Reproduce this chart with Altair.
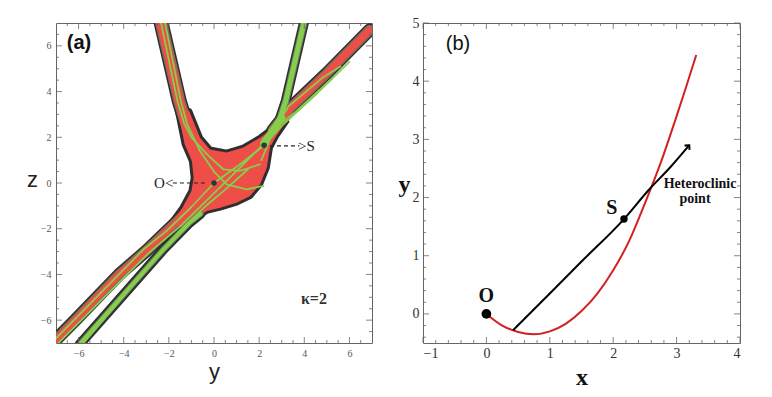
import altair as alt
import pandas as pd

# ---------------- Panel (a): y-z plane ----------------
a_major = [-6, -4, -2, 0, 2, 4, 6]
a_minor = [-6.5, -5.5, -5, -4.5, -3.5, -3, -2.5, -1.5, -1, -0.5,
           0.5, 1, 1.5, 2.5, 3, 3.5, 4.5, 5, 5.5, 6.5]

# band centre lines (y, z)
band_A_y = [-7.8, -6.15, -4.2, -3.0, -1.5, -0.9]
band_A_z = [-7.65, -6.0, -4.0, -2.97, -1.55, -1.0]
band_B_y = [2.6, 3.4, 5.0, 6.9]
band_B_z = [2.3, 3.3, 4.8, 6.7]
band_C_y = [-6.35, -5.9, -2.3, -1.1, -0.6]
band_C_z = [-7.6, -7.0, -2.97, -1.75, -1.35]
band_D_y = [-2.45, -2.34, -1.54, -1.2, -0.95]
band_D_z = [7.5, 7.0, 3.59, 2.5, 1.6]
band_E_y = [4.1, 3.98, 3.18, 2.9]
band_E_z = [7.5, 7.0, 3.59, 2.75]

# central red region outline
blob_y = [-1.6, -1.3, -0.98, -0.9, -1.0, -1.4, -1.85, -1.3, -0.77, -0.32, 0.27, 1.0,
          1.6, 2.04, 2.34, 2.48, 2.75, 3.2, 3.0, 2.63, 2.04, 1.30, 0.56, -0.18, -0.62, -1.1, -1.6]
blob_z = [3.15, 1.69, 0.96, 0.23, -0.35, -1.08, -1.7, -2.05, -1.52, -1.22, -1.08, -0.86,
          -0.57, -0.06, 0.67, 1.55, 2.05, 2.7, 2.85, 2.42, 1.98, 1.55, 1.33, 1.47, 1.98, 3.15, 3.15]

# green manifold lines
g1_y = [-7.8, -3.12, -2.1, -1.0, 0.0, 1.2, 2.22, 3.0, 4.6, 6.0]
g1_z = [-7.6, -2.9, -2.1, -1.05, 0.0, 0.85, 1.65, 2.5, 3.95, 5.3]
g2_y = [-7.5, -2.88, -1.5, 0.56, 2.04, 2.7, 3.6, 5.2]
g2_z = [-7.6, -3.05, -1.9, 0.09, 1.55, 2.4, 3.1, 4.55]
g3_y = [-6.3, -2.3, -1.1, -0.3, 0.6, 1.5]
g3_z = [-7.6, -2.97, -1.7, -0.95, -0.2, 0.6]
g4_y = [-2.27, -1.47, -1.2, -0.62, 0.04, 0.56, 1.45, 2.19]
g4_z = [7.5, 3.59, 2.6, 1.40, 0.45, -0.06, -0.28, -0.13]
g5_y = [-2.45, -1.62, -1.32, -1.0, -0.32, 0.41, 1.15, 2.04]
g5_z = [7.5, 3.59, 2.6, 2.0, 1.26, 0.6, 0.53, 0.82]
g6_y = [4.1, 3.98, 3.18, 2.9, 2.6, 2.35, 2.1]
g6_z = [7.5, 7.0, 3.59, 2.8, 2.2, 1.6, 1.0]
g7_y = [2.4, 3.3, 4.8, 5.6]
g7_z = [1.9, 3.35, 4.6, 5.1]
g8_y = [2.2, 2.6, 3.0]
g8_z = [1.75, 2.3, 2.85]

pts_a_name = ["O", "S"]
pts_a_y = [0.0, 2.22]
pts_a_z = [0.0, 1.65]

# ---------------- Panel (b): x-y plane ----------------
b_x_major = [-1, 0, 1, 2, 3, 4]
b_y_major = [0, 1, 2, 3, 4, 5]
b_x_minor = [-0.8, -0.6, -0.4, -0.2, 0.2, 0.4, 0.6, 0.8, 1.2, 1.4, 1.6, 1.8, 2.2, 2.4,
             2.6, 2.8, 3.2, 3.4, 3.6, 3.8]
b_y_minor = [-0.4, -0.2, 0.2, 0.4, 0.6, 0.8, 1.2, 1.4, 1.6, 1.8, 2.2, 2.4, 2.6, 2.8,
             3.2, 3.4, 3.6, 3.8, 4.2, 4.4, 4.6, 4.8]

red_x = [0, 0.25, 0.5, 0.75, 1.0, 1.25, 1.5, 1.75, 2.0, 2.25, 2.5, 2.75, 3.0, 3.15, 3.31]
red_y = [0, -0.2, -0.31, -0.35, -0.3, -0.17, 0.05, 0.35, 0.75, 1.25, 1.9, 2.6, 3.4, 3.9, 4.45]
blk_x = [0.42, 1.0, 1.5, 2.17, 2.56, 2.9, 3.2]
blk_y = [-0.28, 0.35, 0.9, 1.63, 2.13, 2.52, 2.9]

pts_b_name = ["O", "S"]
pts_b_x = [0.0, 2.17]
pts_b_y = [0.0, 1.63]

DARK = "#2f2f2f"
RED = "#ef4d47"
GREEN = "#86cf4b"
SERIF = "Liberation Serif"
SANS = "Liberation Sans"

WA, HA = 316, 320
WB, HB = 317, 320


def path_df(xs, ys):
    return pd.DataFrame({"u": xs, "v": ys, "k": list(range(len(xs)))})


def tick_layers(major_x, minor_x, major_y, minor_y, sx, sy, ax, ay, W, H):
    layers = []
    for vals, ln in ((major_x, 6), (minor_x, 3)):
        d = pd.DataFrame({"u": vals})
        base = alt.Chart(d).mark_rule(color="#666", strokeWidth=0.8)
        layers.append(base.encode(x=alt.X("u:Q", scale=sx, axis=ax),
                                  y=alt.value(H), y2=alt.value(H - ln)))
        layers.append(base.encode(x=alt.X("u:Q", scale=sx, axis=ax),
                                  y=alt.value(0), y2=alt.value(ln)))
    for vals, ln in ((major_y, 6), (minor_y, 3)):
        d = pd.DataFrame({"v": vals})
        base = alt.Chart(d).mark_rule(color="#666", strokeWidth=0.8)
        layers.append(base.encode(y=alt.Y("v:Q", scale=sy, axis=ay),
                                  x=alt.value(0), x2=alt.value(ln)))
        layers.append(base.encode(y=alt.Y("v:Q", scale=sy, axis=ay),
                                  x=alt.value(W), x2=alt.value(W - ln)))
    return layers


# ---------------- build panel (a) ----------------
sxa = alt.Scale(domain=[-7, 7], nice=False, zero=False)
sya = alt.Scale(domain=[-7, 7], nice=False, zero=False)
axa_x = alt.Axis(values=a_major, title="y", ticks=False, domain=False, grid=False,
                 labelFont=SERIF, labelFontSize=10, labelColor="#555", labelPadding=5,
                 titleFont=SANS, titleFontSize=22, titleFontWeight="normal", titleColor="#222",
                 titleY=35, titleBaseline="alphabetic")
axa_y = alt.Axis(values=a_major, title="z", ticks=False, domain=False, grid=False,
                 labelFont=SERIF, labelFontSize=10, labelColor="#555", labelPadding=5,
                 titleFont=SANS, titleFontSize=22, titleFontWeight="normal", titleColor="#222",
                 titleAngle=0, titleX=-24, titleY=163, titleAlign="center",
                 titleBaseline="alphabetic")


def enc_a(ch):
    return ch.encode(x=alt.X("u:Q", scale=sxa, axis=axa_x), y=alt.Y("v:Q", scale=sya, axis=axa_y))


def line_a(df, **kw):
    return enc_a(alt.Chart(df).mark_line(clip=True, strokeCap="round", strokeJoin="round", **kw)).encode(
        order="k:Q")


bands = [
    (band_A_y, band_A_z, 13, 7, RED),
    (band_B_y, band_B_z, 13, 7, RED),
    (band_C_y, band_C_z, 10, 4, GREEN),
    (band_D_y, band_D_z, 15, 9, RED),
    (band_E_y, band_E_z, 10, 5, GREEN),
]
blob = path_df(blob_y, blob_z)

layers_a = []
for ys, zs, wo, wi, col in bands:
    layers_a.append(line_a(path_df(ys, zs), color=DARK, strokeWidth=wo))
layers_a.append(line_a(blob, stroke=DARK, fill=DARK, strokeWidth=6))
for ys, zs, wo, wi, col in bands:
    if col == RED:
        layers_a.append(line_a(path_df(ys, zs), color="#8a6a5a", strokeWidth=wi + 3))
        layers_a.append(line_a(path_df(ys, zs), color=RED, strokeWidth=wi))
layers_a.append(line_a(blob, fill=RED, strokeWidth=0))
for ys, zs, wo, wi, col in bands:
    if col == GREEN:
        layers_a.append(line_a(path_df(ys, zs), color="#6a7a60", strokeWidth=wi + 2))
        layers_a.append(line_a(path_df(ys, zs), color=GREEN, strokeWidth=wi))
for gy, gz in ((g1_y, g1_z), (g2_y, g2_z), (g3_y, g3_z), (g4_y, g4_z), (g5_y, g5_z),
               (g6_y, g6_z), (g7_y, g7_z)):
    layers_a.append(line_a(path_df(gy, gz), color=GREEN, strokeWidth=1.8))
layers_a.append(line_a(path_df(g8_y, g8_z), color=GREEN, strokeWidth=7))

pa = pd.DataFrame({"name": pts_a_name, "u": pts_a_y, "v": pts_a_z})
layers_a.append(enc_a(alt.Chart(pa).mark_circle(color="#2a3a3a", size=30, opacity=1)))

# dashed pointers
dash_df = pd.DataFrame({"u": [-1.82, 2.48], "u2": [-0.35, 3.78], "v": [0.0, 1.62]})
layers_a.append(enc_a(alt.Chart(dash_df).mark_rule(color="#222", strokeWidth=1.2,
                                                   strokeDash=[4, 3])).encode(x2="u2:Q"))
lab_l = pd.DataFrame({"t": ["O<"], "u": [-1.8], "v": [0.0]})
lab_r = pd.DataFrame({"t": [">S"], "u": [3.72], "v": [1.62]})
layers_a.append(enc_a(alt.Chart(lab_l).mark_text(
    font=SERIF, fontSize=15, align="right", baseline="middle", color="#222")).encode(text="t:N"))
layers_a.append(enc_a(alt.Chart(lab_r).mark_text(
    font=SERIF, fontSize=15, align="left", baseline="middle", color="#222")).encode(text="t:N"))
kap = pd.DataFrame({"t": ["κ=2"], "u": [4.43], "v": [-5.07]})
layers_a.append(enc_a(alt.Chart(kap).mark_text(font=SERIF, fontSize=16, fontWeight="bold",
                                                align="center", baseline="middle",
                                                color="#333")).encode(text="t:N"))
layers_a.append(alt.Chart(pd.DataFrame({"t": ["(a)"]})).mark_text(
    font=SANS, fontSize=20, fontWeight="bold", align="center", baseline="middle", color="#111").encode(
    x=alt.value(23), y=alt.value(20), text="t:N"))
layers_a += tick_layers(a_major, a_minor, a_major, a_minor, sxa, sya, axa_x, axa_y, WA, HA)

panel_a = alt.layer(*layers_a).properties(width=WA, height=HA)

# ---------------- build panel (b) ----------------
sxb = alt.Scale(domain=[-1, 4], nice=False, zero=False)
syb = alt.Scale(domain=[-0.5, 5], nice=False, zero=False)
axb_x = alt.Axis(values=b_x_major, title="x", ticks=False, domain=False, grid=False,
                 labelFont=SERIF, labelFontSize=14, labelColor="#333", labelPadding=3,
                 titleFont=SERIF, titleFontSize=24, titleFontWeight="bold", titleColor="#111",
                 titleY=41, titleBaseline="alphabetic")
axb_y = alt.Axis(values=b_y_major, title="y", ticks=False, domain=False, grid=False,
                 labelFont=SERIF, labelFontSize=14, labelColor="#333", labelPadding=4,
                 titleFont=SERIF, titleFontSize=24, titleFontWeight="bold", titleColor="#111",
                 titleAngle=0, titleX=-19, titleY=168, titleAlign="center",
                 titleBaseline="alphabetic")


def enc_b(ch):
    return ch.encode(x=alt.X("u:Q", scale=sxb, axis=axb_x), y=alt.Y("v:Q", scale=syb, axis=axb_y))


layers_b = []
layers_b.append(enc_b(alt.Chart(path_df(red_x, red_y)).mark_line(
    color="#d42020", strokeWidth=2, interpolate="monotone")).encode(order="k:Q"))
layers_b.append(enc_b(alt.Chart(path_df(blk_x, blk_y)).mark_line(
    color="#000", strokeWidth=2, interpolate="monotone")).encode(order="k:Q"))
tip = pd.DataFrame({"u": [blk_x[-1]], "v": [blk_y[-1]]})
layers_b.append(enc_b(alt.Chart(tip).mark_point(
    shape="M-1,1L0,0L1,1", size=45, angle=42, filled=False, color="#000", strokeWidth=2,
    opacity=1)))
pb = pd.DataFrame({"name": pts_b_name, "u": pts_b_x, "v": pts_b_y, "s": [95, 55]})
layers_b.append(enc_b(alt.Chart(pb).mark_circle(color="#000", opacity=1)).encode(
    size=alt.Size("s:Q", scale=None, legend=None)))
lab_b = pd.DataFrame({"t": ["O", "S"], "u": [0.0, 1.98], "v": [0.31, 1.82]})
layers_b.append(enc_b(alt.Chart(lab_b).mark_text(
    font=SERIF, fontSize=20, fontWeight="bold", align="center", baseline="middle", color="#111")).encode(
    text="t:N"))
het = pd.DataFrame({"t": ["Heteroclinic", "point"], "u": [3.37, 3.29], "v": [2.23, 1.98]})
layers_b.append(enc_b(alt.Chart(het).mark_text(
    font=SERIF, fontSize=14, fontWeight="bold", align="center", baseline="middle", color="#111")).encode(
    text="t:N"))
layers_b.append(alt.Chart(pd.DataFrame({"t": ["(b)"]})).mark_text(
    font=SANS, fontSize=20, align="center", baseline="middle", color="#111").encode(
    x=alt.value(35), y=alt.value(21), text="t:N"))
layers_b += tick_layers(b_x_major, b_x_minor, b_y_major, b_y_minor, sxb, syb, axb_x, axb_y, WB, HB)

panel_b = alt.layer(*layers_b).properties(width=WB, height=HB)

chart = alt.hconcat(panel_a, panel_b, spacing=24).properties(
    padding={"left": 18, "top": 7, "right": 0, "bottom": 0}
).configure_view(stroke="#666", strokeWidth=1)

chart.save("out.html", embed_options={"renderer": "svg", "actions": False})
